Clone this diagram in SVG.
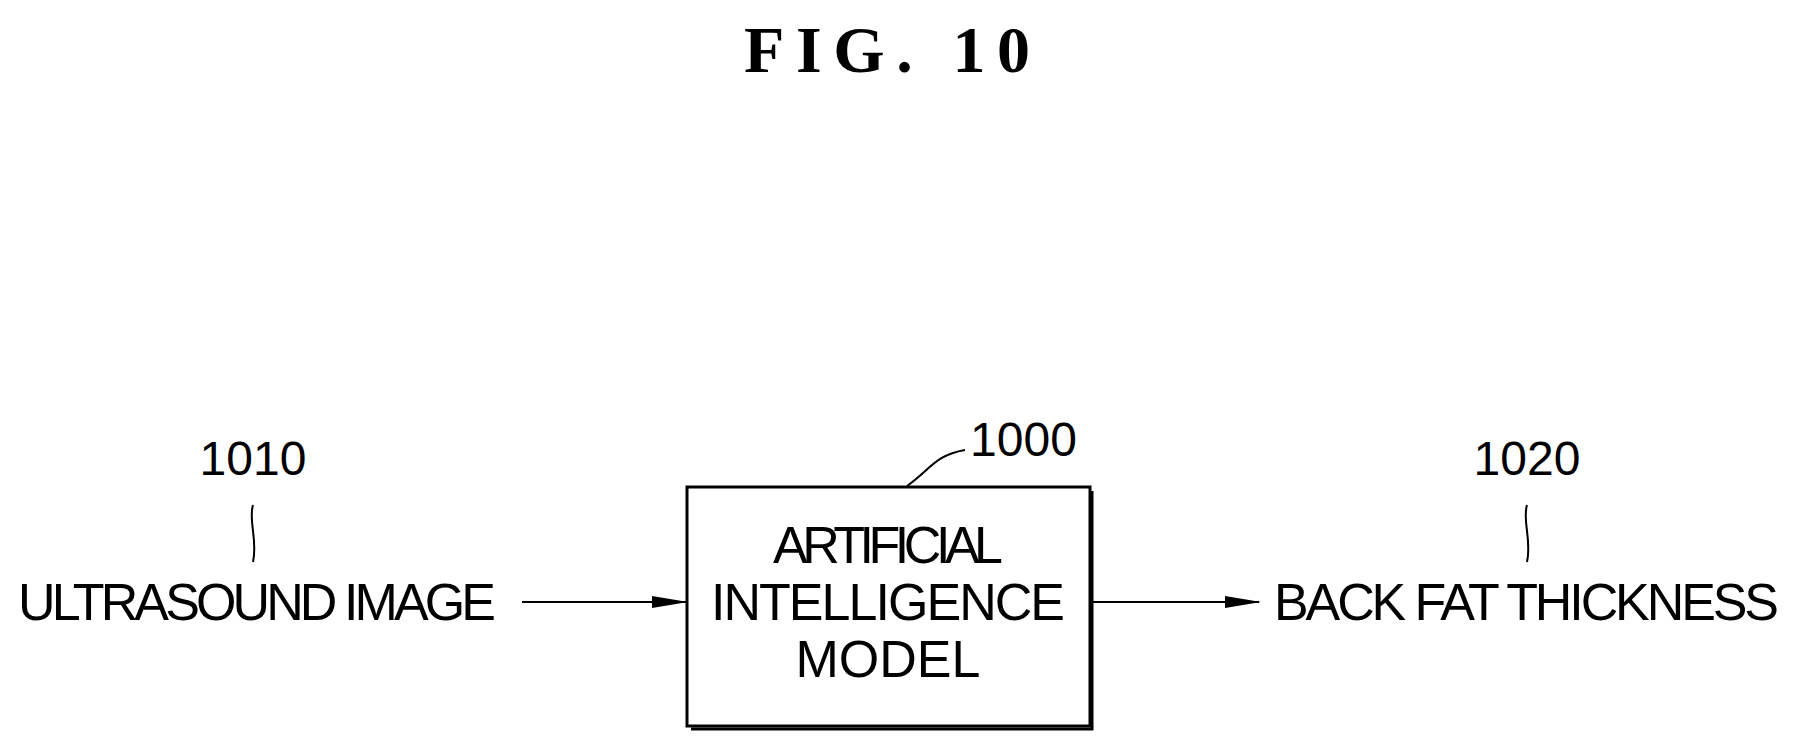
<svg xmlns="http://www.w3.org/2000/svg" width="1800" height="748" viewBox="0 0 1800 748">
<defs><style>
.t{font-family:"Liberation Sans",Arial,sans-serif;font-size:52px;fill:#000}
.n{font-family:"Liberation Sans",Arial,sans-serif;font-size:48px;fill:#000}
.l{fill:none;stroke:#000;stroke-width:2}
</style>
<marker id="ah" markerWidth="36" markerHeight="14" refX="34" refY="7" orient="auto" markerUnits="userSpaceOnUse"><path d="M0,1 L36,7 L0,13 Z" fill="#000"/></marker></defs>
<rect width="1800" height="748" fill="#fff"/>
<text x="887" y="72" text-anchor="middle" font-family="Liberation Serif,serif" font-weight="bold" font-size="66" textLength="286">FIG.  10</text>
<g id="n1010"><text class="t" x="18" y="620" textLength="478">ULTRASOUND IMAGE</text>
<text class="n" x="253" y="475" text-anchor="middle">1010</text>
<path class="l" d="M253,505 C248,520 258,540 253,562"/></g>
<g id="n1000"><rect x="687" y="487" width="403" height="239" fill="#fff" stroke="#000" stroke-width="3"/>
<path d="M1092,491 V729 H691" fill="none" stroke="#000" stroke-width="3"/>
<text class="t" text-anchor="middle" x="888" y="563" textLength="230">ARTIFICIAL</text>
<text class="t" text-anchor="middle" x="888" y="620" textLength="354">INTELLIGENCE</text>
<text class="t" text-anchor="middle" x="888" y="677">MODEL</text>
<text class="n" x="970" y="456" textLength="107">1000</text>
<path class="l" d="M907,486 C930,470 935,455 965,450"/></g>
<g id="n1020"><text class="t" x="1274" y="620" textLength="505">BACK FAT THICKNESS</text>
<text class="n" x="1527" y="475" text-anchor="middle">1020</text>
<path class="l" d="M1527,505 C1522,520 1532,540 1527,562"/></g>
<g id="connectors">
<line class="l" x1="522" y1="602" x2="686" y2="602" marker-end="url(#ah)"/>
<line class="l" x1="1092" y1="602" x2="1259" y2="602" marker-end="url(#ah)"/>
</g>
</svg>
